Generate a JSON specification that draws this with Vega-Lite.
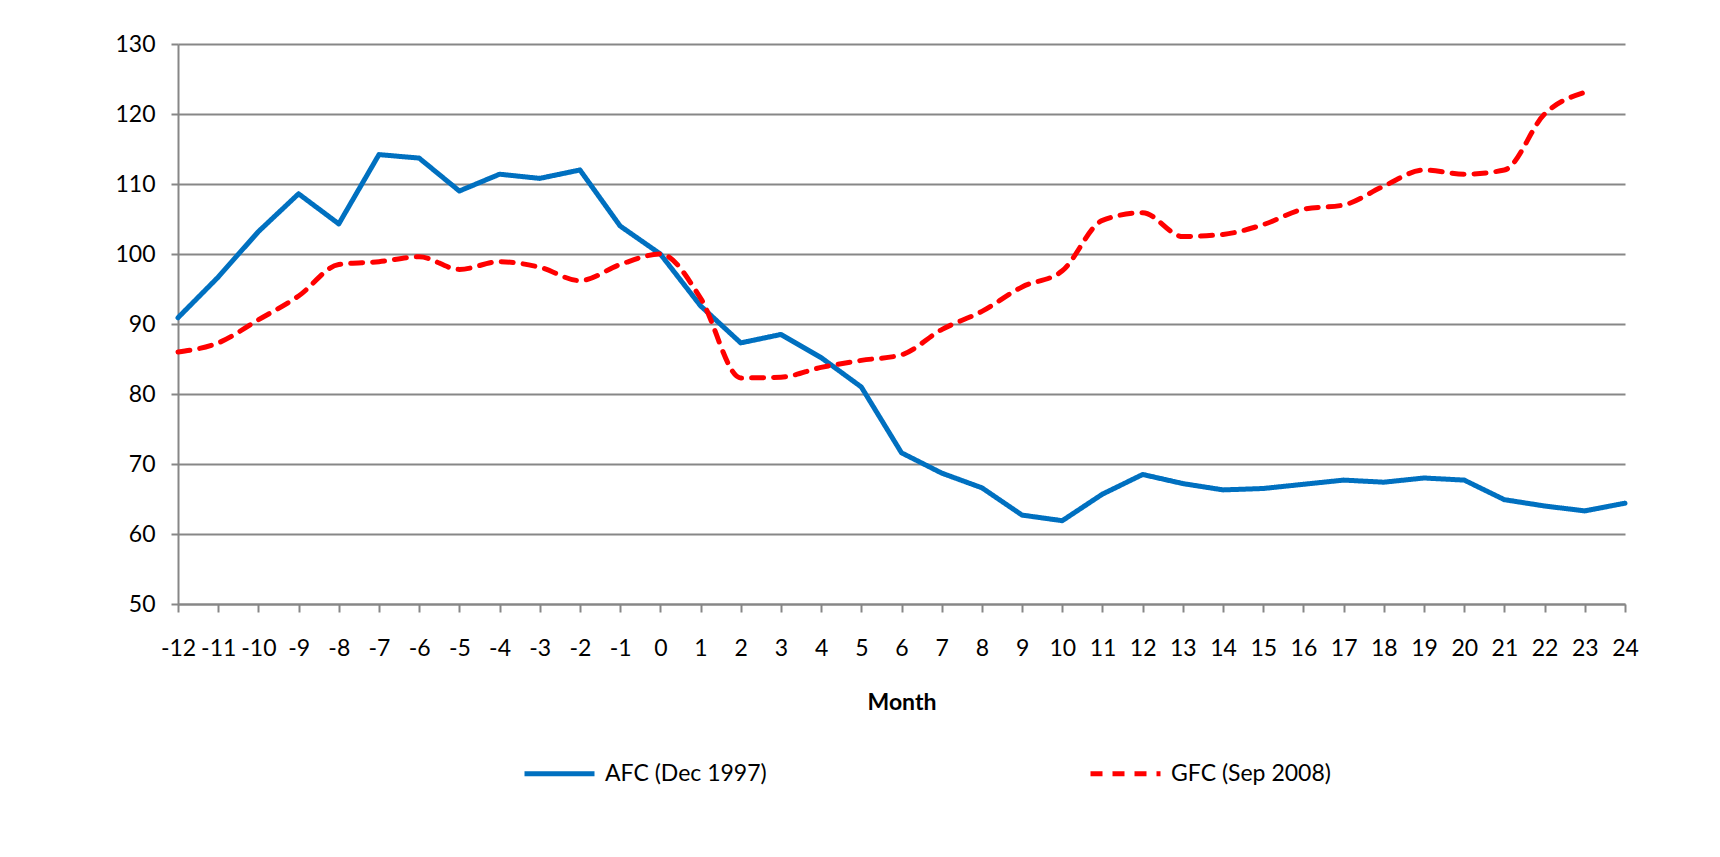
{
  "$schema": "https://vega.github.io/schema/vega-lite/v6.json",
  "autosize": {"type": "none"},
  "padding": {"left": 178, "top": 44, "right": 95, "bottom": 253},
  "width": 1447,
  "height": 560,
  "background": "white",
  "data": {
    "values": [
      {"month": -12, "series": "AFC (Dec 1997)", "value": 90.9},
      {"month": -11, "series": "AFC (Dec 1997)", "value": 96.7},
      {"month": -10, "series": "AFC (Dec 1997)", "value": 103.2},
      {"month": -9, "series": "AFC (Dec 1997)", "value": 108.6},
      {"month": -8, "series": "AFC (Dec 1997)", "value": 104.3},
      {"month": -7, "series": "AFC (Dec 1997)", "value": 114.2},
      {"month": -6, "series": "AFC (Dec 1997)", "value": 113.7},
      {"month": -5, "series": "AFC (Dec 1997)", "value": 109.0},
      {"month": -4, "series": "AFC (Dec 1997)", "value": 111.4},
      {"month": -3, "series": "AFC (Dec 1997)", "value": 110.8},
      {"month": -2, "series": "AFC (Dec 1997)", "value": 112.0},
      {"month": -1, "series": "AFC (Dec 1997)", "value": 104.0},
      {"month": 0, "series": "AFC (Dec 1997)", "value": 100.0},
      {"month": 1, "series": "AFC (Dec 1997)", "value": 92.6},
      {"month": 2, "series": "AFC (Dec 1997)", "value": 87.3},
      {"month": 3, "series": "AFC (Dec 1997)", "value": 88.5},
      {"month": 4, "series": "AFC (Dec 1997)", "value": 85.2},
      {"month": 5, "series": "AFC (Dec 1997)", "value": 81.0},
      {"month": 6, "series": "AFC (Dec 1997)", "value": 71.6},
      {"month": 7, "series": "AFC (Dec 1997)", "value": 68.7},
      {"month": 8, "series": "AFC (Dec 1997)", "value": 66.6},
      {"month": 9, "series": "AFC (Dec 1997)", "value": 62.7},
      {"month": 10, "series": "AFC (Dec 1997)", "value": 61.9},
      {"month": 11, "series": "AFC (Dec 1997)", "value": 65.7},
      {"month": 12, "series": "AFC (Dec 1997)", "value": 68.5},
      {"month": 13, "series": "AFC (Dec 1997)", "value": 67.2},
      {"month": 14, "series": "AFC (Dec 1997)", "value": 66.3},
      {"month": 15, "series": "AFC (Dec 1997)", "value": 66.5},
      {"month": 16, "series": "AFC (Dec 1997)", "value": 67.1},
      {"month": 17, "series": "AFC (Dec 1997)", "value": 67.7},
      {"month": 18, "series": "AFC (Dec 1997)", "value": 67.4},
      {"month": 19, "series": "AFC (Dec 1997)", "value": 68.0},
      {"month": 20, "series": "AFC (Dec 1997)", "value": 67.7},
      {"month": 21, "series": "AFC (Dec 1997)", "value": 64.9},
      {"month": 22, "series": "AFC (Dec 1997)", "value": 64.0},
      {"month": 23, "series": "AFC (Dec 1997)", "value": 63.3},
      {"month": 24, "series": "AFC (Dec 1997)", "value": 64.4},
      {"month": -12, "series": "GFC (Sep 2008)", "value": 86.0},
      {"month": -11, "series": "GFC (Sep 2008)", "value": 87.3},
      {"month": -10, "series": "GFC (Sep 2008)", "value": 90.6},
      {"month": -9, "series": "GFC (Sep 2008)", "value": 94.0},
      {"month": -8, "series": "GFC (Sep 2008)", "value": 98.5},
      {"month": -7, "series": "GFC (Sep 2008)", "value": 98.9},
      {"month": -6, "series": "GFC (Sep 2008)", "value": 99.6},
      {"month": -5, "series": "GFC (Sep 2008)", "value": 97.8},
      {"month": -4, "series": "GFC (Sep 2008)", "value": 98.9},
      {"month": -3, "series": "GFC (Sep 2008)", "value": 98.1},
      {"month": -2, "series": "GFC (Sep 2008)", "value": 96.2},
      {"month": -1, "series": "GFC (Sep 2008)", "value": 98.5},
      {"month": 0, "series": "GFC (Sep 2008)", "value": 100.0},
      {"month": 1, "series": "GFC (Sep 2008)", "value": 93.7},
      {"month": 2, "series": "GFC (Sep 2008)", "value": 82.3},
      {"month": 3, "series": "GFC (Sep 2008)", "value": 82.4},
      {"month": 4, "series": "GFC (Sep 2008)", "value": 83.8},
      {"month": 5, "series": "GFC (Sep 2008)", "value": 84.8},
      {"month": 6, "series": "GFC (Sep 2008)", "value": 85.6},
      {"month": 7, "series": "GFC (Sep 2008)", "value": 89.2},
      {"month": 8, "series": "GFC (Sep 2008)", "value": 91.8},
      {"month": 9, "series": "GFC (Sep 2008)", "value": 95.3},
      {"month": 10, "series": "GFC (Sep 2008)", "value": 97.6},
      {"month": 11, "series": "GFC (Sep 2008)", "value": 104.8},
      {"month": 12, "series": "GFC (Sep 2008)", "value": 105.9},
      {"month": 13, "series": "GFC (Sep 2008)", "value": 102.5},
      {"month": 14, "series": "GFC (Sep 2008)", "value": 102.8},
      {"month": 15, "series": "GFC (Sep 2008)", "value": 104.2},
      {"month": 16, "series": "GFC (Sep 2008)", "value": 106.4},
      {"month": 17, "series": "GFC (Sep 2008)", "value": 107.0},
      {"month": 18, "series": "GFC (Sep 2008)", "value": 109.7},
      {"month": 19, "series": "GFC (Sep 2008)", "value": 112.0},
      {"month": 20, "series": "GFC (Sep 2008)", "value": 111.4},
      {"month": 21, "series": "GFC (Sep 2008)", "value": 112.0},
      {"month": 22, "series": "GFC (Sep 2008)", "value": 120.0},
      {"month": 23, "series": "GFC (Sep 2008)", "value": 123.1}
    ]
  },
  "encoding": {
    "x": {
      "field": "month",
      "type": "quantitative",
      "title": "Month",
      "scale": {"domain": [-12, 24], "nice": false, "zero": false},
      "axis": {
        "values": [-12,-11,-10,-9,-8,-7,-6,-5,-4,-3,-2,-1,0,1,2,3,4,5,6,7,8,9,10,11,12,13,14,15,16,17,18,19,20,21,22,23,24],
        "labelExpr": "toString(datum.value)",
        "grid": false,
        "tickSize": 8,
        "labelPadding": 25,
        "labelOverlap": false,
        "labelFlush": false,
        "titlePadding": 31
      }
    },
    "y": {
      "field": "value",
      "type": "quantitative",
      "title": null,
      "scale": {"domain": [50, 130], "nice": false, "zero": false},
      "axis": {
        "values": [50, 60, 70, 80, 90, 100, 110, 120, 130],
        "grid": true,
        "tickSize": 7,
        "labelPadding": 16
      }
    },
    "color": {
      "field": "series",
      "type": "nominal",
      "scale": {"domain": ["AFC (Dec 1997)", "GFC (Sep 2008)"], "range": ["#0070C0", "#FF0000"]},
      "legend": {"title": null}
    },
    "strokeDash": {
      "field": "series",
      "type": "nominal",
      "scale": {"domain": ["AFC (Dec 1997)", "GFC (Sep 2008)"], "range": [[1, 0], [12, 10]]},
      "legend": {"title": null}
    }
  },
  "layer": [
    {
      "transform": [{"filter": "datum.series === 'AFC (Dec 1997)'"}],
      "mark": {"type": "line", "strokeWidth": 5, "strokeCap": "round", "strokeJoin": "round"}
    },
    {
      "transform": [{"filter": "datum.series === 'GFC (Sep 2008)'"}],
      "mark": {"type": "line", "strokeWidth": 5, "strokeCap": "round", "strokeJoin": "round", "interpolate": "monotone"}
    }
  ],
  "config": {
    "view": {"stroke": null},
    "font": "Lato",
    "axis": {
      "labelFont": "Lato",
      "labelFontSize": 23,
      "labelColor": "#000000",
      "titleFont": "Lato",
      "titleFontSize": 23,
      "titleFontWeight": "bold",
      "titleColor": "#000000",
      "domainColor": "#878787",
      "domainWidth": 2,
      "tickColor": "#878787",
      "tickWidth": 2,
      "gridColor": "#878787",
      "gridWidth": 2,
      "gridOpacity": 1
    },
    "legend": {
      "orient": "none",
      "legendX": 344,
      "legendY": 692,
      "direction": "horizontal",
      "columns": 2,
      "columnPadding": 313,
      "symbolType": "stroke",
      "symbolSize": 4900,
      "symbolStrokeWidth": 5,
      "labelFont": "Lato",
      "labelFontSize": 23,
      "labelColor": "#000000",
      "labelOffset": 8,
      "labelLimit": 400
    }
  }
}
